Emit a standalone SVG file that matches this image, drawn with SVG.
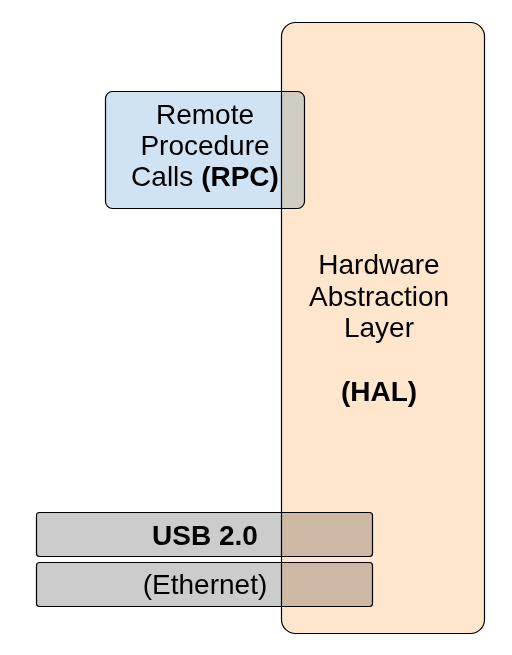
<svg xmlns="http://www.w3.org/2000/svg" width="512" height="655" viewBox="0 0 512 655">
<style>
.box{stroke:#000;stroke-width:1.2;mix-blend-mode:multiply}
.t{font-family:"Liberation Sans",Arial,sans-serif;font-size:28px;fill:#000;text-anchor:middle}
.b{font-weight:bold}
</style>
<rect width="512" height="655" fill="#fff"/>
<g id="hal">
<rect x="281.5" y="22.5" width="203" height="611" rx="14" fill="#FFE6CC" stroke="#000" stroke-width="1.2"/>
<text class="t" x="379" y="274">Hardware</text>
<text class="t" x="379" y="306">Abstraction</text>
<text class="t" x="379" y="337">Layer</text>
<text class="t b" x="379" y="401">(HAL)</text>
</g>
<g id="rpc">
<rect class="box" x="105.5" y="91.5" width="199" height="117" rx="7" fill="#CFE3F3"/>
<text class="t" x="205" y="124">Remote</text>
<text class="t" x="205" y="155">Procedure</text>
<text class="t" x="205" y="186">Calls <tspan class="b">(RPC)</tspan></text>
</g>
<g id="usb">
<rect class="box" x="36.5" y="512.5" width="336" height="44" rx="3" fill="#CCCCCC"/>
<text class="t b" x="205" y="545">USB 2.0</text>
</g>
<g id="ethernet">
<rect class="box" x="36.5" y="562.5" width="336" height="44" rx="3" fill="#CCCCCC"/>
<text class="t" x="205" y="594">(Ethernet)</text>
</g>
<g id="connectors"></g>
</svg>
